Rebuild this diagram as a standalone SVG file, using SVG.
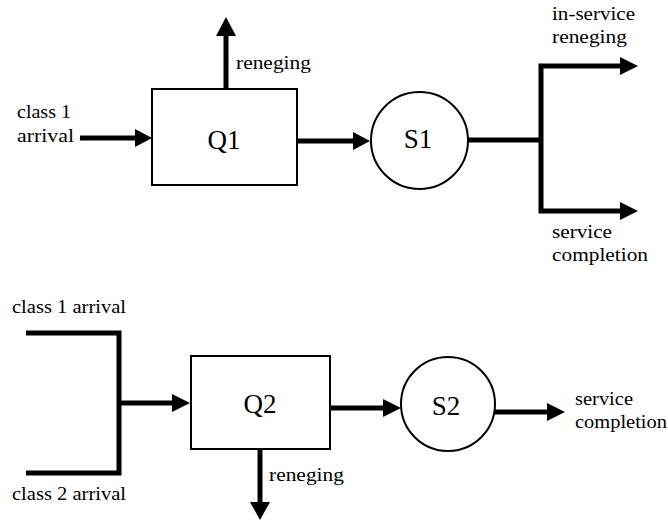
<svg xmlns="http://www.w3.org/2000/svg" width="668" height="525" viewBox="0 0 668 525">
  <style>
    .box { fill: #ffffff; stroke: #000000; stroke-width: 2; }
    .lbl { font-family: "Liberation Serif", "Times New Roman", serif; font-size: 19px; fill: #000000; }
    .name { font-family: "Liberation Serif", "Times New Roman", serif; font-size: 27px; fill: #000000; text-anchor: middle; }
    .flow { fill: none; stroke: #000000; stroke-width: 5; stroke-linejoin: miter; }
    .head { fill: #000000; stroke: none; }
  </style>
  <rect width="668" height="525" fill="#ffffff"/>

  <!-- connectors -->
  <g id="connectors">
    <!-- top system -->
    <line class="flow" x1="80" y1="138" x2="137" y2="138"/>
    <polygon class="head" points="135,129 152,138 135,147"/>
    <line class="flow" x1="226" y1="89" x2="226" y2="34"/>
    <polygon class="head" points="216,36 226,17 236,36"/>
    <line class="flow" x1="297" y1="141" x2="355" y2="141"/>
    <polygon class="head" points="353,132 370,141 353,150"/>
    <line class="flow" x1="468" y1="140" x2="541" y2="140"/>
    <polyline class="flow" points="622,66 541,66 541,211 622,211"/>
    <polygon class="head" points="620,57 638,66 620,75"/>
    <polygon class="head" points="620,202 638,211 620,220"/>

    <!-- bottom system -->
    <polyline class="flow" points="26,333 119,333 119,473 26,473"/>
    <line class="flow" x1="119" y1="403" x2="174" y2="403"/>
    <polygon class="head" points="172,394 190,403 172,412"/>
    <line class="flow" x1="260" y1="449" x2="260" y2="504"/>
    <polygon class="head" points="250,502 260,520 270,502"/>
    <line class="flow" x1="330" y1="408" x2="385" y2="408"/>
    <polygon class="head" points="383,399 401,408 383,417"/>
    <line class="flow" x1="495" y1="412" x2="549" y2="412"/>
    <polygon class="head" points="547,403 565,412 547,421"/>
  </g>

  <!-- queue 1 -->
  <g id="q1">
    <rect class="box" x="152" y="89" width="145" height="96"/>
    <text class="name" x="224" y="149">Q1</text>
  </g>

  <!-- server 1 -->
  <g id="s1">
    <circle class="box" cx="419.5" cy="140.5" r="48.5"/>
    <text class="name" x="418" y="148">S1</text>
  </g>

  <!-- queue 2 -->
  <g id="q2">
    <rect class="box" x="191" y="356" width="139" height="93"/>
    <text class="name" x="260" y="413">Q2</text>
  </g>

  <!-- server 2 -->
  <g id="s2">
    <circle class="box" cx="448" cy="404" r="47"/>
    <text class="name" x="446" y="415">S2</text>
  </g>

  <!-- labels -->
  <g id="labels">
    <text class="lbl" x="17" y="118" textLength="54" lengthAdjust="spacingAndGlyphs">class 1</text>
    <text class="lbl" x="17" y="142" textLength="57" lengthAdjust="spacingAndGlyphs">arrival</text>
    <text class="lbl" x="236" y="69" textLength="75" lengthAdjust="spacingAndGlyphs">reneging</text>
    <text class="lbl" x="552" y="20" textLength="83" lengthAdjust="spacingAndGlyphs">in-service</text>
    <text class="lbl" x="552" y="43" textLength="75" lengthAdjust="spacingAndGlyphs">reneging</text>
    <text class="lbl" x="552" y="238" textLength="60" lengthAdjust="spacingAndGlyphs">service</text>
    <text class="lbl" x="552" y="261" textLength="96" lengthAdjust="spacingAndGlyphs">completion</text>
    <text class="lbl" x="12" y="313" textLength="114" lengthAdjust="spacingAndGlyphs">class 1 arrival</text>
    <text class="lbl" x="12" y="500" textLength="114" lengthAdjust="spacingAndGlyphs">class 2 arrival</text>
    <text class="lbl" x="269" y="481" textLength="75" lengthAdjust="spacingAndGlyphs">reneging</text>
    <text class="lbl" x="575" y="405" textLength="58" lengthAdjust="spacingAndGlyphs">service</text>
    <text class="lbl" x="575" y="428" textLength="92" lengthAdjust="spacingAndGlyphs">completion</text>
  </g>
</svg>
